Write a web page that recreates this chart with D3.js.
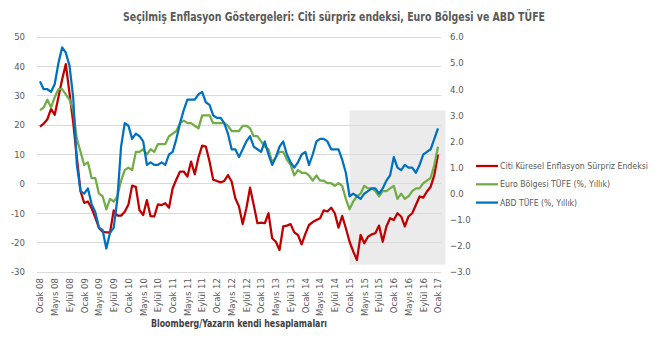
<!DOCTYPE html>
<html>
<head>
<meta charset="utf-8">
<script src="https://cdn.jsdelivr.net/npm/d3@7"></script>
<style>
  body { margin: 0; background: #fff; }
  svg { font-family: "Liberation Sans Narrow", "DejaVu Sans Condensed", "Liberation Sans", sans-serif; }
</style>
</head>
<body>
<svg id="chart"></svg>
<script>
// aylar: Ocak 08 .. Ocak 17 (109 ay)
const monthNames = ["Ocak", "Şubat", "Mart", "Nisan", "Mayıs", "Haziran", "Temmuz", "Ağustos", "Eylül", "Ekim", "Kasım", "Aralık"];
const years = ["08", "09", "10", "11", "12", "13", "14", "15", "16", "17"];

// Citi Küresel Enflasyon Sürpriz Endeksi (sol eksen)
const citi = [
  19.5, 20.5, 22, 25.5, 23.5, 29.5, 35.5, 40.8, 31, 21, 9, -2.5,
  -6.5, -6, -8.3, -11.5, -15, -16.3, -16.5, -16.5, -9, -10.8, -10.8, -9.5,
  -7, -0.6, -1, -9, -10.6, -5.5, -11, -11.1, -7, -7.2, -6.6, -8.1,
  -1.5, 1.5, 4.2, 4.2, 2.5, 7.6, 3.3, 9, 13, 12.7, 7.6, 1.4,
  1, 0.5, 1, 3, 0.8, -4.9, -7.7, -13.7, -8.3, -1.3, -7.2, -13.4,
  -13.2, -13.4, -10, -18.5, -19.7, -22.5, -14.5, -14.2, -13.7, -16.5, -17.4, -20.6,
  -17, -14, -13, -12.3, -11.7, -9, -9.4, -8.1, -10, -14.9, -10.9, -15.1,
  -19.7, -23, -25.9, -17.4, -20.2, -18, -17.2, -16.8, -14.2, -19.7, -14.5, -11.7,
  -12.3, -10, -11.1, -14.5, -11.1, -10, -7.2, -4.3, -4.7, -2.6, -1, 3,
  10
];

// Euro Bölgesi TÜFE (%, Yıllık) (sağ eksen)
const euro = [
  3.2, 3.3, 3.6, 3.3, 3.7, 4.0, 4.0, 3.8, 3.6, 3.2, 2.1, 1.6,
  1.1, 1.2, 0.6, 0.6, 0.0, -0.1, -0.6, -0.2, -0.3, -0.1, 0.5, 0.9,
  1.0, 0.9, 1.6, 1.6, 1.7, 1.5, 1.7, 1.6, 1.9, 1.9, 1.9, 2.2,
  2.3, 2.4, 2.7, 2.8, 2.7, 2.7, 2.6, 2.5, 3.0, 3.0, 3.0, 2.7,
  2.7, 2.7, 2.7, 2.6, 2.4, 2.4, 2.4, 2.6, 2.6, 2.5, 2.2, 2.2,
  2.0, 1.8, 1.7, 1.2, 1.4, 1.6, 1.6, 1.3, 1.1, 0.7, 0.9, 0.8,
  0.8, 0.7, 0.5, 0.7, 0.5, 0.5, 0.4, 0.4, 0.3, 0.4, 0.3, -0.2,
  -0.6, -0.3, -0.1, 0.0, 0.3, 0.2, 0.2, 0.1, -0.1, 0.1, 0.1, 0.2,
  0.3, -0.2, 0.0, -0.2, -0.1, 0.1, 0.2, 0.2, 0.4, 0.5, 0.6, 1.1,
  1.8
];

// ABD TÜFE (%, Yıllık) (sağ eksen)
const usa = [
  4.3, 4.0, 4.0, 3.9, 4.2, 5.0, 5.6, 5.4, 4.9, 3.7, 1.1, 0.1,
  0.0, 0.2, -0.4, -0.7, -1.3, -1.4, -2.1, -1.5, -1.3, -0.2, 1.8, 2.7,
  2.6, 2.1, 2.3, 2.2, 2.0, 1.1, 1.2, 1.1, 1.1, 1.2, 1.1, 1.5,
  1.6, 2.1, 2.7, 3.2, 3.6, 3.6, 3.6, 3.8, 3.9, 3.5, 3.4, 3.0,
  2.9, 2.9, 2.7, 2.3, 1.7, 1.7, 1.4, 1.7, 2.0, 2.2, 1.8, 1.7,
  1.6, 2.0, 1.5, 1.1, 1.4, 1.8, 2.0, 1.5, 1.2, 1.0, 1.2, 1.5,
  1.6, 1.1, 1.5, 2.0, 2.1, 2.1, 2.0, 1.7, 1.7, 1.7, 1.3, 0.8,
  -0.1, 0.0, -0.1, -0.2, 0.0, 0.1, 0.2, 0.2, 0.0, 0.2, 0.5, 0.7,
  1.4, 1.0, 0.9, 1.1, 1.0, 1.0, 0.8, 1.1, 1.5, 1.6, 1.7, 2.1,
  2.5
];

const leftTicks = [-30, -20, -10, 0, 10, 20, 30, 40, 50];
const rightTicks = [-3, -2, -1, 0, 1, 2, 3, 4, 5, 6];
const seriesNames = ["Citi Küresel Enflasyon Sürpriz Endeksi", "Euro Bölgesi TÜFE (%, Yıllık)", "ABD TÜFE (%, Yıllık)"];
// gri alan: Ocak 15'ten sona kadar (sol eksen birimiyle)
const shadeFrom = "Ocak 15";
const shadeTop = 25;
const shadeBottom = -27.5;

class InflationChart {
  constructor() {
    this.months = [];
    years.forEach(y => monthNames.forEach(m => this.months.push(m + " " + y)));
    this.months = this.months.slice(0, citi.length);
  }

  init() {
    this.makeFig();
  }

  makeFig() {
    const width = 667;
    const height = 351;
    const plot = {left: 37, right: 441, top: 37, bottom: 272};

    const svg = d3.select('#chart')
      .attr('width', width)
      .attr('height', height);

    const n = this.months.length;
    const xscale = d3.scaleLinear().domain([0, n - 1]).range([40, 438]);
    const yleft = d3.scaleLinear().domain([-30, 50]).range([plot.bottom, plot.top]);
    const yright = d3.scaleLinear().domain([-3, 6]).range([plot.bottom, plot.top]);

    // gri arka plan
    const s0 = this.months.indexOf(shadeFrom);
    svg.append('rect')
      .attr('x', xscale(s0))
      .attr('y', yleft(shadeTop))
      .attr('width', xscale(n + 1) - xscale(s0))
      .attr('height', yleft(shadeBottom) - yleft(shadeTop))
      .attr('fill', '#ebebeb');

    // yatay çizgiler
    svg.append('g').selectAll('line').data(leftTicks).enter().append('line')
      .attr('x1', plot.left).attr('x2', plot.right)
      .attr('y1', d => yleft(d)).attr('y2', d => yleft(d))
      .attr('stroke', '#d9d9d9')
      .attr('stroke-width', 1)
      .attr('shape-rendering', 'crispEdges');

    const tickColor = '#595959';

    svg.append('g').selectAll('text').data(leftTicks).enter().append('text')
      .attr('x', 25)
      .attr('y', d => yleft(d))
      .attr('dy', '0.35em')
      .attr('text-anchor', 'end')
      .attr('font-size', '9.5px')
      .attr('fill', tickColor)
      .text(d => d);

    svg.append('g').selectAll('text').data(rightTicks).enter().append('text')
      .attr('x', 450)
      .attr('y', d => yright(d))
      .attr('dy', '0.35em')
      .attr('font-size', '9.5px')
      .attr('fill', tickColor)
      .text(d => d3.format('.1f')(d));

    // x ekseni etiketleri (4 ayda bir)
    const xlabels = this.months.filter((m, i) => i % 4 === 0);
    svg.append('g').selectAll('text').data(xlabels).enter().append('text')
      .attr('transform', d => `translate(${xscale(this.months.indexOf(d))}, 278) rotate(-90)`)
      .attr('dy', '0.35em')
      .attr('text-anchor', 'end')
      .attr('font-size', '9.5px')
      .attr('fill', tickColor)
      .text(d => d);

    // seriler
    const series = [
      {name: seriesNames[0], values: citi, y: yleft, color: '#c00000'},
      {name: seriesNames[1], values: euro, y: yright, color: '#70ad47'},
      {name: seriesNames[2], values: usa, y: yright, color: '#0070c0'}
    ];

    series.forEach(s => {
      const line = d3.line()
        .x((d, i) => xscale(i))
        .y(d => s.y(d));
      svg.append('path')
        .attr('d', line(s.values))
        .attr('fill', 'none')
        .attr('stroke', s.color)
        .attr('stroke-width', 2.25)
        .attr('stroke-linejoin', 'round');
    });

    // lejant
    const legendLens = [148, 110, 77];
    const lg = svg.append('g').selectAll('g').data(series).enter().append('g')
      .attr('transform', (d, i) => `translate(476, ${166 + i * 18.3})`);
    lg.append('line')
      .attr('x1', 0).attr('x2', 22)
      .attr('stroke', d => d.color)
      .attr('stroke-width', 2.25);
    lg.append('text')
      .attr('x', 24)
      .attr('dy', '0.35em')
      .attr('font-size', '8.5px')
      .attr('fill', tickColor)
      .attr('textLength', (d, i) => legendLens[i])
      .attr('lengthAdjust', 'spacingAndGlyphs')
      .text(d => d.name);

    // başlık
    svg.append('text')
      .attr('x', 334)
      .attr('y', 21)
      .attr('text-anchor', 'middle')
      .attr('font-size', '13px')
      .attr('font-weight', 'bold')
      .attr('fill', '#595959')
      .attr('textLength', 422)
      .attr('lengthAdjust', 'spacingAndGlyphs')
      .text('Seçilmiş Enflasyon Göstergeleri: Citi sürpriz endeksi, Euro Bölgesi ve ABD TÜFE');

    // kaynak
    svg.append('text')
      .attr('x', 239)
      .attr('y', 327)
      .attr('text-anchor', 'middle')
      .attr('font-size', '10px')
      .attr('font-weight', 'bold')
      .attr('fill', '#404040')
      .attr('textLength', 176)
      .attr('lengthAdjust', 'spacingAndGlyphs')
      .text('Bloomberg/Yazarın kendi hesaplamaları');
  }
}

const ch = new InflationChart();
ch.init();
</script>
</body>
</html>
